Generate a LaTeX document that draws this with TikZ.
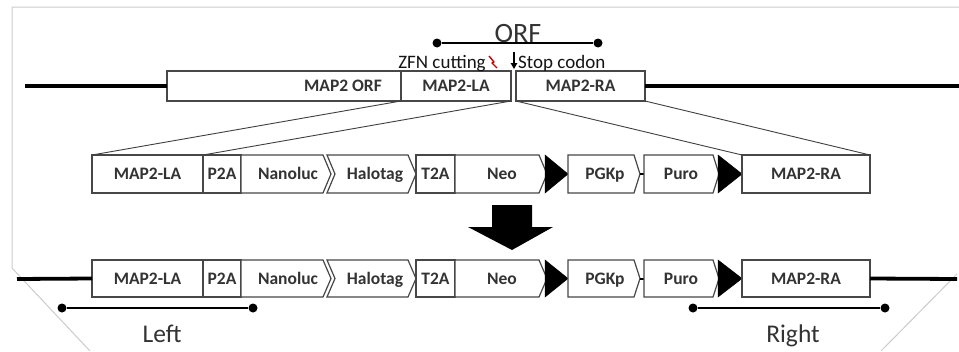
\documentclass[tikz,border=0pt]{standalone}
\usepackage{fontspec}
\setmainfont{Carlito}
\usetikzlibrary{arrows.meta}
\tikzset{
 boxline/.style={draw=black!72, line width=1.2pt, fill=white, line join=miter},
 rectbox/.style={boxline, rectangle, inner sep=0pt, outer sep=0pt, text=black!80,
   font=\fontsize{17.5}{17.5}\selectfont\bfseries, text height=12.5pt, text depth=1.5pt},
 lbl/.style={text=black!80, font=\fontsize{17.5}{17.5}\selectfont\bfseries, inner sep=0pt,
   text height=12.5pt, text depth=1.5pt},
 anno/.style={text=black!92, font=\fontsize{19}{19}\selectfont, inner sep=0pt, anchor=base},
 big/.style={text=black!80, font=\fontsize{25.5}{25.5}\selectfont, inner sep=0pt, anchor=base},
 genome/.style={line width=3.8pt, black},
 bar/.style={line width=2.6pt, black},
 dot/.style={circle, fill=black, inner sep=0pt, minimum size=9pt},
 expand/.style={line width=0.9pt, black!75},
 frameline/.style={line width=1pt, black!20},
 loxp/.style={fill=black, draw=black, line width=0.5pt, line join=miter},
}
\newcommand\mygene[6]{%
  \draw[boxline] (#1,#3) -- ({#2-#5},#3) -- (#2,{(#3+#4)/2}) -- ({#2-#5},#4) -- (#1,#4) -- ({#1+#6},{(#3+#4)/2}) -- cycle;}
\newcommand\myrow[3]{%
  \pgfmathsetmacro\ymid{(#2+#3)/2}%
  \pgfmathsetmacro\hh{#3-#2}%
  \node[rectbox, minimum width=111pt, minimum height=\hh pt] (#1LA) at (147.5,\ymid) {MAP2-LA};
  \node[rectbox, minimum width=38pt, minimum height=\hh pt] (#1Ptwo) at (222,\ymid) {P2A};
  \mygene{241}{331}{#2}{#3}{8}{0}
  \node[lbl] (#1Nano) at (288,\ymid) {Nanoluc};
  \mygene{327}{416}{#2}{#3}{8}{8}
  \node[lbl] (#1Halo) at (375,\ymid) {Halotag};
  \node[rectbox, minimum width=39pt, minimum height=\hh pt] (#1Ttwo) at (435.5,\ymid) {T2A};
  \mygene{455}{547}{#2}{#3}{8}{0}
  \node[lbl] (#1Neo) at (502,\ymid) {Neo};
  \path[loxp] (545,#2) -- (545,#3) -- (568,\ymid) -- cycle;
  \mygene{568}{640}{#2}{#3}{6}{0}
  \node[lbl] (#1PGK) at (605,\ymid) {PGKp};
  \draw[line width=2pt] (640,\ymid) -- (644,\ymid);
  \mygene{644}{719}{#2}{#3}{6}{0}
  \node[lbl] (#1Puro) at (681,\ymid) {Puro};
  \path[loxp] (718,#2) -- (718,#3) -- (742,\ymid) -- cycle;
  \node[rectbox, minimum width=128pt, minimum height=\hh pt] (#1RA) at (806,\ymid) {MAP2-RA};
}
\begin{document}
\begin{tikzpicture}[x=1pt, y=-1pt]
\useasboundingbox (0,0) rectangle (959,351);
\fill[white] (0,0) rectangle (959,351);
% frame
\draw[frameline] (90,351) -- (12,268) -- (12,7) -- (959,7);
\draw[frameline] (957,274) -- (881,351);

% top genome
\coordinate (tl) at (25,86);
\coordinate (tr) at (959,86);
\node[rectbox, minimum width=234pt, minimum height=30pt] (topORF) at (284,86) {};
\node[rectbox, minimum width=110pt, minimum height=30pt] (topLA) at (456,86) {};
\node[rectbox, minimum width=129pt, minimum height=30pt] (topRA) at (580.5,86) {};
\draw[genome] (tl) -- (topORF.west);
\draw[genome] (topRA.east) -- (tr);
\node[lbl] (tORFlbl) at (343,86) {MAP2 ORF};
\node[lbl] (tLAlbl) at (456,86) {MAP2-LA};
\node[lbl] (tRAlbl) at (580.5,86) {MAP2-RA};

% ORF bar
\node[dot] (orfA) at (437,43) {};
\node[dot] (orfB) at (598,43) {};
\draw[bar] (orfA) -- (orfB);
\node[text=black!80, font=\fontsize{28}{28}\selectfont, inner sep=0pt, anchor=base] (orflbl) at (518,42) {ORF};

% annotations
\node[anno] (zfn) at (442,68) {ZFN cutting};
\node[anno, anchor=base west] (stop) at (518,68) {Stop codon};
\coordinate (arrA) at (514,52);
\coordinate (arrB) at (514,69);
\draw[line width=1.3pt, -{Triangle[length=6pt,width=6.5pt]}] (arrA) -- (arrB);
\draw[red!80!black, line width=1.4pt, line join=round] (489,56) -- (494,62) -- (492,63) -- (497,68);

% middle row
\myrow{m}{155}{193}
% expansion lines
\draw[expand] (topORF.south east) -- (mLA.north west);
\draw[expand] (topLA.south east) -- (mLA.north east);
\draw[expand] (topRA.south west) -- (mRA.north west);
\draw[expand] (topRA.south east) -- (mRA.north east);

% big arrow
\fill[black] (492,205) -- (532,205) -- (532,227) -- (553,227) -- (512,250) -- (468,227) -- (492,227) -- cycle;

% bottom row
\coordinate (bl) at (17,279);
\coordinate (br) at (957,279);
\myrow{b}{260}{297}
\draw[genome] (bl) -- (bLA.west);
\draw[genome] (bRA.east) -- (br);

% Left / Right bars
\node[dot] (lA) at (62,308) {};
\node[dot] (lB) at (253,308) {};
\draw[bar] (lA) -- (lB);
\node[big] (leftlbl) at (162,342) {Left};
\node[dot] (rA) at (693,308) {};
\node[dot] (rB) at (885,308) {};
\draw[bar] (rA) -- (rB);
\node[big] (rightlbl) at (793,342) {Right};
\end{tikzpicture}
\end{document}
